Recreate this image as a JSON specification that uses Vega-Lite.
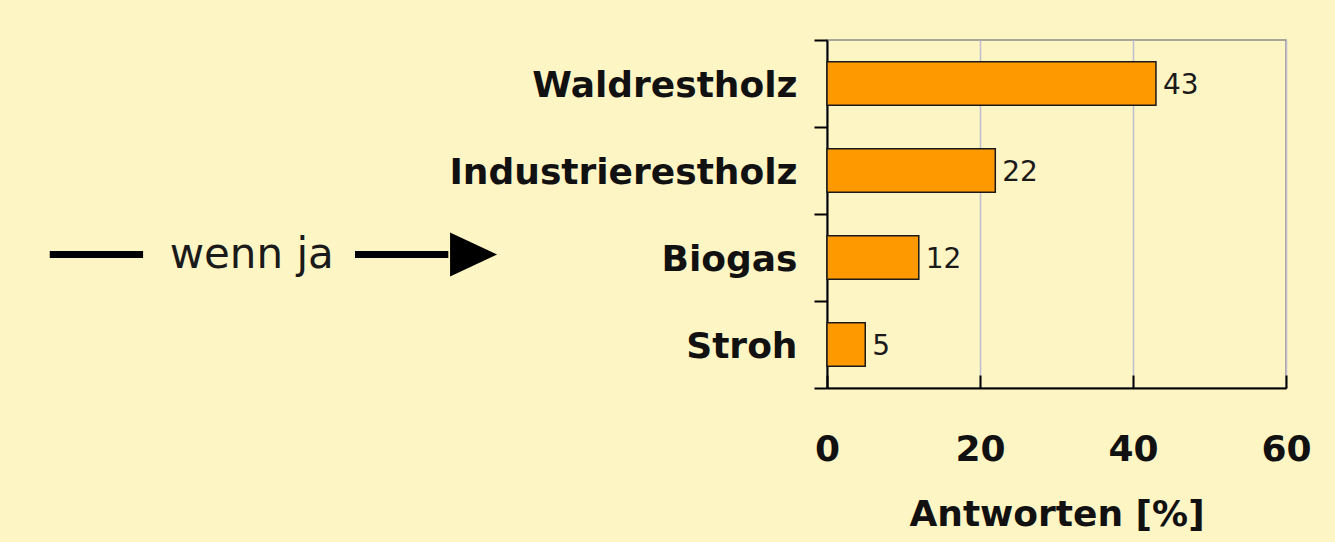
{
  "$schema": "https://vega.github.io/schema/vega-lite/v6.json",
  "width": 459,
  "height": 348,
  "autosize": {"type": "none"},
  "padding": {"left": 827, "top": 40, "right": 49, "bottom": 154},
  "background": "#FEF5C4",
  "config": {"view": {"stroke": "#8C8C8C", "strokeWidth": 1.5}, "font": "DejaVu Sans"},
  "layer": [
    {
      "data": {"values": [
        {"Kategorie": "Waldrestholz", "Antworten": 43},
        {"Kategorie": "Industrierestholz", "Antworten": 22},
        {"Kategorie": "Biogas", "Antworten": 12},
        {"Kategorie": "Stroh", "Antworten": 5}
      ]},
      "layer": [
        {
          "mark": {"type": "bar", "fill": "#FF9900", "stroke": "#1a1a1a", "strokeWidth": 1.5, "height": {"band": 0.5}},
          "encoding": {
            "y": {
              "field": "Kategorie", "type": "nominal", "sort": null,
              "scale": {"domain": ["Waldrestholz", "Industrierestholz", "Biogas", "Stroh"], "paddingInner": 0, "paddingOuter": 0},
              "axis": {"title": null, "tickBand": "extent", "domainColor": "#000", "domainWidth": 2, "tickColor": "#000", "tickWidth": 2, "tickSize": 13, "labelPadding": 17, "labelFont": "DejaVu Sans", "labelFontWeight": "bold", "labelFontSize": 36, "labelColor": "#111", "labelLimit": 0, "labelOffset": 2}
            },
            "x": {
              "field": "Antworten", "type": "quantitative",
              "scale": {"domain": [0, 60], "nice": false},
              "axis": {"title": "Antworten [%]", "values": [0, 20, 40, 60], "grid": true, "gridColor": "#BDBDCF", "gridWidth": 1.5, "domainColor": "#000", "domainWidth": 2, "tickColor": "#000", "tickWidth": 2, "tickSize": -13, "labelPadding": 57, "labelFlush": false, "labelFont": "DejaVu Sans", "labelFontSize": 36, "labelFontWeight": "bold", "labelColor": "#111", "titleFont": "DejaVu Sans", "titleFontSize": 36, "titleFontWeight": "bold", "titleColor": "#111", "titlePadding": 30}
            }
          }
        },
        {
          "mark": {"type": "text", "align": "left", "baseline": "middle", "dx": 7, "dy": 2, "fontSize": 28, "color": "#1a1a1a"},
          "encoding": {
            "y": {"field": "Kategorie", "type": "nominal", "sort": null},
            "x": {"field": "Antworten", "type": "quantitative"},
            "text": {"field": "Antworten", "type": "quantitative"}
          }
        }
      ]
    },
    {
      "data": {"values": [
        {"Kategorie": "Biogas", "Antworten": -101.6, "Ende": -89.4},
        {"Kategorie": "Biogas", "Antworten": -61.7, "Ende": -49.5}
      ]},
      "mark": {"type": "rule", "color": "#000", "strokeWidth": 7, "yOffset": -3},
      "encoding": {
        "y": {"field": "Kategorie", "type": "nominal", "sort": null},
        "x": {"field": "Antworten", "type": "quantitative"},
        "x2": {"field": "Ende"}
      }
    },
    {
      "data": {"values": [{"Kategorie": "Biogas", "Antworten": -46.2}]},
      "mark": {"type": "point", "shape": "M-1,-0.94L1,0L-1,0.94Z", "size": 2209, "filled": true, "color": "#000", "opacity": 1, "yOffset": -3},
      "encoding": {
        "y": {"field": "Kategorie", "type": "nominal", "sort": null},
        "x": {"field": "Antworten", "type": "quantitative"}
      }
    },
    {
      "data": {"values": [{"Kategorie": "Biogas", "Antworten": -75.2, "Text": "wenn ja"}]},
      "mark": {"type": "text", "align": "center", "baseline": "middle", "fontSize": 42, "color": "#1a1a1a", "yOffset": -3},
      "encoding": {
        "y": {"field": "Kategorie", "type": "nominal", "sort": null},
        "x": {"field": "Antworten", "type": "quantitative"},
        "text": {"field": "Text", "type": "nominal"}
      }
    }
  ]
}
